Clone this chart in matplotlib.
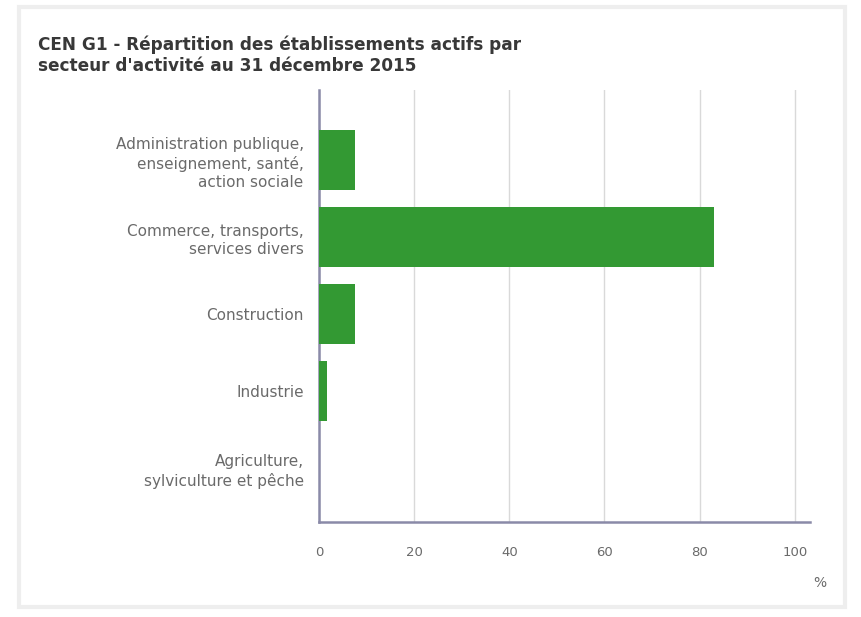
import matplotlib
matplotlib.use("Agg")
import matplotlib.pyplot as plt
from matplotlib.patches import Rectangle

plt.rcParams['font.family'] = ['DejaVu Sans']

title = "CEN G1 - Répartition des établissements actifs par\nsecteur d'activité au 31 décembre 2015"
categories = [
    "Administration publique,\nenseignement, santé,\naction sociale",
    "Commerce, transports,\nservices divers",
    "Construction",
    "Industrie",
    "Agriculture,\nsylviculture et pêche",
]
values = [7.6, 83.1, 7.5, 1.7, 0.1]
xticks = [0, 20, 40, 60, 80, 100]
unit_label = "%"

W, H = 861, 617
fig = plt.figure(figsize=(W / 100, H / 100), dpi=100)
fig.patch.set_facecolor("white")

# soft panel frame
fig.patches.append(Rectangle((19 / W, 10 / H), (845 - 19) / W, (610 - 10) / H,
                             transform=fig.transFigure, fill=False,
                             edgecolor="#eeeeee", linewidth=3, zorder=0))

ax = fig.add_axes([319 / W, (H - 522) / H, (810 - 319) / W, (522 - 90) / H])
ypos = list(range(len(categories)))
ax.barh(ypos, values, height=0.77, color="#339933", zorder=3)

ax.set_xlim(0, 103.2)
ax.set_ylim(4.70, -0.91)
ax.set_yticks(ypos)
ax.set_yticklabels(categories, fontsize=11, color="#6a6a6a", linespacing=1.3)
ax.set_xticks(xticks)
ax.set_xticklabels([str(t) for t in xticks], fontsize=9.5, color="#6a6a6a")
ax.tick_params(axis="y", length=0, pad=11)
ax.tick_params(axis="x", length=0, pad=17)

for s in ["top", "right"]:
    ax.spines[s].set_visible(False)
for s in ["left", "bottom"]:
    ax.spines[s].set_color("#8a8aa8")
    ax.spines[s].set_linewidth(1.8)

ax.grid(axis="x", color="#d9d9d9", linewidth=1, zorder=0)
ax.set_axisbelow(True)

fig.text(38 / W, 1 - 36 / H, title, fontsize=12.2, fontweight="bold",
         color="#383838", va="top", ha="left", linespacing=1.15)
fig.text(820 / W, 1 - 583 / H, unit_label, fontsize=10, color="#6a6a6a",
         ha="center", va="center")

fig.savefig("out.png", dpi=100, facecolor="white")
